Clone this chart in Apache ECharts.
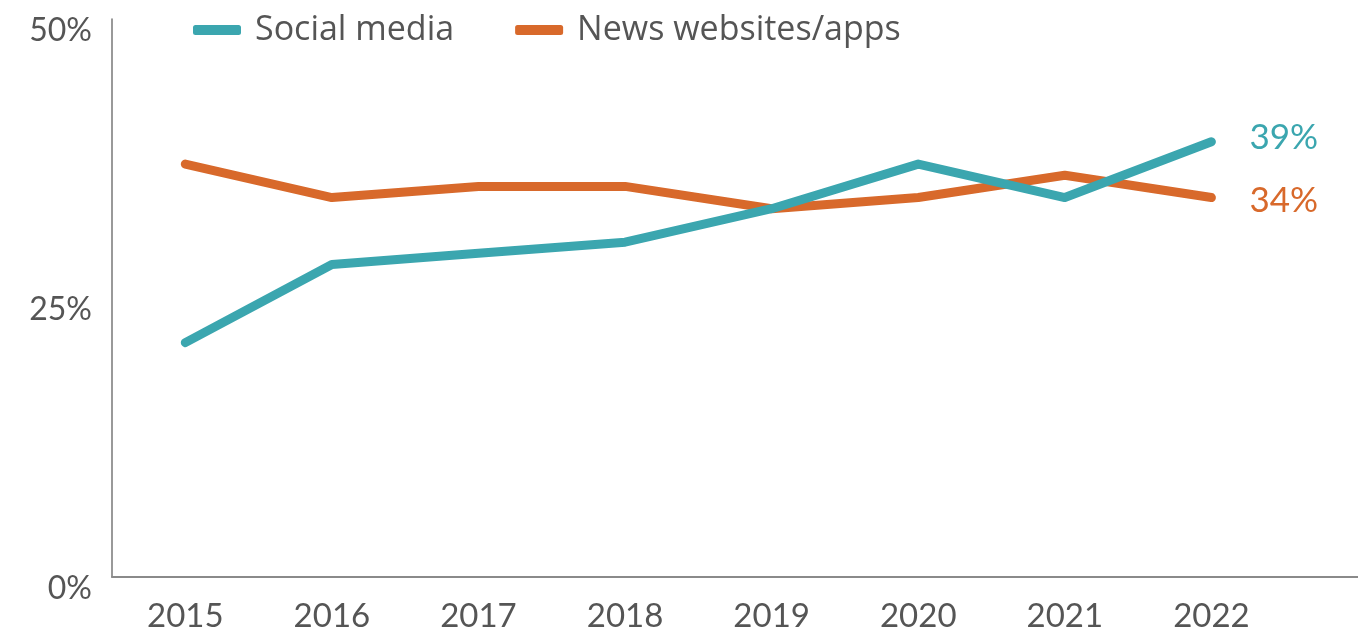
<!DOCTYPE html>
<html>
<head>
<meta charset="utf-8">
<script src="https://cdn.jsdelivr.net/npm/echarts@6/dist/echarts.min.js"></script>
<style>
  html, body { margin: 0; padding: 0; background: #fff; }
  #chart { width: 1358px; height: 633px; }
</style>
</head>
<body>
<div id="chart"></div>
<script>
// Years on the horizontal axis
const years = [2015, 2016, 2017, 2018, 2019, 2020, 2021, 2022];
// Share of people using each source (%)
const socialMedia = [21, 28, 29, 30, 33, 37, 34, 39];
const newsSites = [37, 34, 35, 35, 33, 34, 36, 34];
// Tick values on the vertical axis
const yTicks = [0, 25, 50];

const TEAL = '#3ba6af';
const ORANGE = '#d8692b';
const TEXT = '#555555';
const NUM_FONT = 'Lato, "Open Sans", sans-serif';
const LEGEND_FONT = '"Open Sans", Lato, sans-serif';

const pairs = vals => years.map((y, i) => [y, vals[i]]);

const chart = echarts.init(document.getElementById('chart'));
chart.setOption({
  animation: false,
  grid: { left: 112, right: 0, top: 19, bottom: 56 },
  legend: {
    left: 188,
    top: 8,
    itemWidth: 48,
    itemHeight: 10,
    itemGap: 61,
    icon: 'roundRect',
    textStyle: { color: TEXT, fontSize: 34, fontFamily: LEGEND_FONT, padding: [0, 0, 0, 9] },
    data: ['Social media', 'News websites/apps']
  },
  xAxis: {
    type: 'value',
    min: 2014.5,
    max: 2023,
    axisLine: { show: true, lineStyle: { color: '#8a8a8a', width: 2 } },
    axisTick: { show: false },
    splitLine: { show: false },
    axisLabel: {
      customValues: years,
      color: TEXT,
      fontSize: 33,
      fontFamily: NUM_FONT,
      margin: 23,
      formatter: v => String(v)
    }
  },
  yAxis: {
    type: 'value',
    min: 0,
    max: 50,
    axisLine: { show: true, lineStyle: { color: '#777', width: 1.5 } },
    axisTick: { show: false },
    splitLine: { show: false },
    axisLabel: {
      customValues: yTicks,
      color: TEXT,
      fontSize: 32,
      fontFamily: NUM_FONT,
      margin: 20,
      verticalAlign: 'top',
      lineHeight: 24,
      formatter: v => v + '%'
    }
  },
  series: [
    {
      name: 'Social media',
      type: 'line',
      data: pairs(socialMedia),
      symbol: 'none',
      color: TEAL,
      lineStyle: { width: 9, cap: 'round', join: 'round' },
      endLabel: {
        show: true,
        formatter: p => p.value[1] + '%',
        color: TEAL,
        fontSize: 35,
        fontFamily: NUM_FONT,
        distance: 38,
        offset: [0, -4]
      },
      z: 3
    },
    {
      name: 'News websites/apps',
      type: 'line',
      data: pairs(newsSites),
      symbol: 'none',
      color: ORANGE,
      lineStyle: { width: 9, cap: 'round', join: 'round' },
      endLabel: {
        show: true,
        formatter: p => p.value[1] + '%',
        color: ORANGE,
        fontSize: 35,
        fontFamily: NUM_FONT,
        distance: 38,
        offset: [0, 3]
      },
      z: 2
    }
  ]
});
</script>
</body>
</html>
